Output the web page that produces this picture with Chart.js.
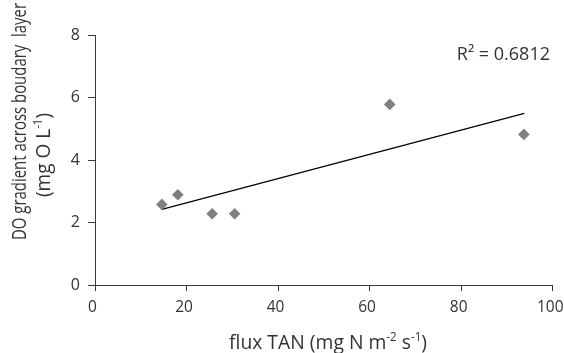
<!DOCTYPE html>
<html>
<head>
<meta charset="utf-8">
<script src="https://cdn.jsdelivr.net/npm/chart.js@4/dist/chart.umd.min.js"></script>
<style>
  html, body { margin: 0; padding: 0; background: #fff; }
  #wrap { width: 564px; height: 353px; }
</style>
</head>
<body>
<div id="wrap"><canvas id="chart"></canvas></div>
<script>
(function() {
  'use strict';
  // 測定値 (flux TAN, DO gradient)
  const fluxValues = [14.6, 18.1, 25.6, 30.5, 64.4, 93.7];
  const doValues = [2.58, 2.89, 2.28, 2.28, 5.78, 4.82];
  // 近似直線の端点
  const trendX = [14.6, 93.8];
  const trendY = [2.42, 5.49];
  // 目盛り
  const xTicks = [0, 20, 40, 60, 80, 100];
  const yTicks = [0, 2, 4, 6, 8];
  const rSquaredText = 'R² = 0.6812';
  // 軸タイトル（上付き文字は sup: true）
  const xTitle = [{ t: 'flux TAN (mg N m' }, { t: '-2', sup: true }, { t: ' s' }, { t: '-1', sup: true }, { t: ')' }];
  const yTitle1 = [{ t: 'DO gradient across boudary  layer' }];
  const yTitle2 = [{ t: '(mg O L' }, { t: '-1', sup: true }, { t: ')' }];

  const fontFamily = '"Open Sans", "Noto Sans", sans-serif';
  const textColor = '#333333';
  const axisColor = '#3a3a3a';

  // 上付き文字付きテキストを描画（中央揃え、幅を targetWidth に合わせる）
  function drawRich(ctx, parts, cx, baseY, size, targetWidth) {
    const supSize = Math.round(size * 0.6);
    let total = 0;
    parts.forEach(function(p) {
      ctx.font = (p.sup ? supSize : size) + 'px ' + fontFamily;
      p.w = ctx.measureText(p.t).width;
      total += p.w;
    });
    const sx = targetWidth ? targetWidth / total : 1;
    ctx.save();
    ctx.translate(cx, baseY);
    ctx.scale(sx, 1);
    let x = -total / 2;
    ctx.textAlign = 'left';
    ctx.textBaseline = 'alphabetic';
    parts.forEach(function(p) {
      ctx.font = (p.sup ? supSize : size) + 'px ' + fontFamily;
      ctx.fillText(p.t, x, p.sup ? -size * 0.38 : 0);
      x += p.w;
    });
    ctx.restore();
  }

  const labelPlugin = {
    id: 'labels',
    afterDraw: function(chart) {
      const ctx = chart.ctx;
      ctx.save();
      ctx.fillStyle = textColor;
      // x 軸タイトル
      drawRich(ctx, xTitle, 328, 349, 20, 198);
      // y 軸タイトル
      ctx.save();
      ctx.translate(26, 121.5);
      ctx.rotate(-Math.PI / 2);
      drawRich(ctx, yTitle1, 0, 0, 20, 237);
      ctx.restore();
      ctx.save();
      ctx.translate(50, 155);
      ctx.rotate(-Math.PI / 2);
      drawRich(ctx, yTitle2, 0, 0, 20, 84);
      ctx.restore();
      // R² 表示
      ctx.font = '18px ' + fontFamily;
      ctx.textAlign = 'right';
      ctx.textBaseline = 'alphabetic';
      ctx.fillText(rSquaredText, 550, 60);
      ctx.restore();
    }
  };

  const pointData = fluxValues.map(function(v, i) { return { x: v, y: doValues[i] }; });
  const trendData = trendX.map(function(v, i) { return { x: v, y: trendY[i] }; });

  new Chart(document.getElementById('chart').getContext('2d'), {
    type: 'scatter',
    data: {
      datasets: [{
        label: 'data',
        data: pointData,
        pointStyle: 'rectRot',
        pointRadius: 5.8,
        backgroundColor: '#7f7f7f',
        borderColor: '#7f7f7f',
        borderWidth: 0,
        order: 1,
      }, {
        label: 'trend',
        data: trendData,
        showLine: true,
        pointRadius: 0,
        borderColor: '#000',
        borderWidth: 1.2,
        order: 2,
      }],
    },
    options: {
      responsive: true,
      maintainAspectRatio: false,
      animation: false,
      layout: { padding: { top: 35, right: 11.3, left: 0, bottom: 0 } },
      plugins: {
        legend: { display: false },
        tooltip: { enabled: false },
      },
      scales: {
        x: {
          type: 'linear',
          min: 0,
          max: 100,
          afterBuildTicks: function(scale) {
            scale.ticks = xTicks.map(function(v) { return { value: v }; });
          },
          afterFit: function(scale) {
            scale.height = 68;
            scale.paddingLeft = 0;
            scale.paddingRight = 0;
          },
          grid: {
            drawOnChartArea: false,
            drawTicks: true,
            tickLength: 6,
            color: axisColor,
            tickColor: axisColor,
          },
          border: { color: axisColor, width: 1 },
          ticks: {
            color: textColor,
            padding: 7,
            labelOffset: -2.5,
            font: { family: fontFamily, size: 15.5 },
            maxRotation: 0,
          },
        },
        y: {
          type: 'linear',
          min: 0,
          max: 8,
          afterBuildTicks: function(scale) {
            scale.ticks = yTicks.map(function(v) { return { value: v }; });
          },
          afterFit: function(scale) {
            scale.width = 95;
            scale.paddingTop = 0;
            scale.paddingBottom = 0;
          },
          grid: {
            drawOnChartArea: false,
            drawTicks: true,
            tickLength: 7,
            color: axisColor,
            tickColor: axisColor,
          },
          border: { color: axisColor, width: 1 },
          ticks: {
            color: textColor,
            padding: 8,
            font: { family: fontFamily, size: 16 },
          },
        },
      },
    },
    plugins: [labelPlugin],
  });
})();
</script>
</body>
</html>
